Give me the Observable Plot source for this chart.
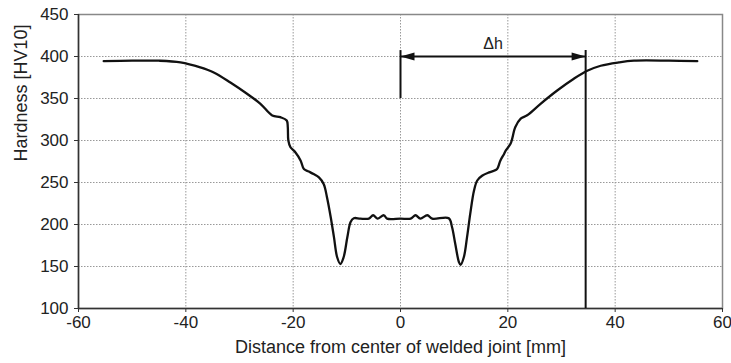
<!DOCTYPE html>
<html>
<head>
<meta charset="utf-8">
<script src="https://cdn.jsdelivr.net/npm/d3@7"></script>
<script src="https://cdn.jsdelivr.net/npm/@observablehq/plot@0.6"></script>
<style>
  html, body { margin: 0; padding: 0; background: #fff; }
  #chart svg { display: block; font-family: "Liberation Sans", Arial, sans-serif; color: #222; }
</style>
</head>
<body>
<div id="chart"></div>
<script>
// Hardness profile across the welded joint
const distance = [-55.3, -50, -45, -41, -37.3, -34.8, -31.7, -28.6, -26.1, -23.9, -22.4, -21.2, -21.0, -20.9, -20.5, -19.6, -18.6, -18.0, -17.1, -16.2, -15.2, -14.3, -13.7, -13.0, -12.4, -11.8, -11.2, -10.6, -9.9, -9.3, -8.7, -7.5, -5.9, -5.1, -4.3, -3.1, -2.5, 0, 1.9, 2.8, 3.7, 5.0, 5.9, 9.0, 9.6, 10.2, 10.9, 11.2, 11.8, 12.4, 13.0, 13.7, 14.3, 15.2, 16.5, 17.4, 18.0, 18.6, 19.3, 19.6, 20.5, 21.4, 22.4, 23.6, 26.1, 29.2, 32.3, 34.8, 37.3, 40.7, 43.5, 50, 55.3];
const hardness = [394.5, 395, 395, 393, 387, 381, 369, 355.6, 343.7, 329.8, 327.8, 323.8, 315.8, 300, 292, 286, 276, 266, 263, 260, 256, 248, 232.5, 208.7, 185, 161, 153, 161, 185, 203, 207.5, 207, 207, 211, 207, 211, 207, 207, 207, 211, 207, 211, 207, 207.5, 197, 177, 155, 152, 161, 185, 213, 240.5, 252.4, 258, 262, 264, 266, 276, 284, 288, 296, 316, 326, 330, 343.7, 359.5, 373.5, 383, 389, 393, 395, 395, 394.4];

const xTicks = [-60, -40, -20, 0, 20, 40, 60];
const yTicks = [100, 150, 200, 250, 300, 350, 400, 450];

// Δh annotation
const dhStart = 0;
const dhEnd = 34.5;
const dhArrowY = 400;
const dhTopY = 407;
const dhStartBottomY = 350;
const dhLabel = "Δh";
const dhLabelY = 415;

const xLabel = "Distance from center of welded joint [mm]";
const yLabel = "Hardness [HV10]";

const profile = distance.map((d, i) => ({x: d, y: hardness[i]}));

const triLeft = {draw(ctx) { ctx.moveTo(0, 0); ctx.lineTo(14, -4); ctx.lineTo(14, 4); ctx.closePath(); }};
const triRight = {draw(ctx) { ctx.moveTo(0, 0); ctx.lineTo(-14, -4); ctx.lineTo(-14, 4); ctx.closePath(); }};

const chart = Plot.plot({
  width: 731,
  height: 363,
  marginLeft: 78,
  marginRight: 9,
  marginTop: 14,
  marginBottom: 55,
  style: {fontFamily: "'Liberation Sans', Arial, sans-serif", color: "#222", background: "#fff"},
  x: {domain: [-60, 60]},
  y: {domain: [100, 450]},
  marks: [
    Plot.gridX(xTicks, {stroke: "#999", strokeOpacity: 1, strokeDasharray: "1.5,1.5"}),
    Plot.gridY(yTicks, {stroke: "#999", strokeOpacity: 1, strokeDasharray: "1.5,1.5"}),
    Plot.frame({stroke: "#888", strokeWidth: 1.5}),
    Plot.ruleX([-60], {stroke: "#333", strokeWidth: 1.5}),
    Plot.ruleY([100], {stroke: "#333", strokeWidth: 1.5}),
    Plot.axisX(xTicks, {tickSize: 4, tickPadding: 3, fontSize: 17, label: null, stroke: "#333", tickFormat: d => String(d)}),
    Plot.axisY(yTicks, {tickSize: 4, tickPadding: 6, fontSize: 17, label: null, stroke: "#333", tickFormat: d => String(d)}),
    Plot.text([xLabel], {frameAnchor: "bottom", dy: 44, text: d => d, fontSize: 18, fill: "#222"}),
    Plot.text([yLabel], {frameAnchor: "left", dx: -57, rotate: -90, text: d => d, fontSize: 18, fill: "#222"}),
    Plot.line(profile, {x: "x", y: "y", curve: "catmull-rom", stroke: "#111", strokeWidth: 2.3}),
    Plot.ruleX([dhStart], {y1: dhStartBottomY, y2: dhTopY, stroke: "#111", strokeWidth: 2}),
    Plot.ruleX([dhEnd], {y1: 100, y2: dhTopY, stroke: "#111", strokeWidth: 2}),
    Plot.ruleY([dhArrowY], {x1: dhStart, x2: dhEnd, stroke: "#111", strokeWidth: 2}),
    Plot.dot([{x: dhStart, y: dhArrowY}], {x: "x", y: "y", symbol: triLeft, fill: "#111", stroke: null}),
    Plot.dot([{x: dhEnd, y: dhArrowY}], {x: "x", y: "y", symbol: triRight, fill: "#111", stroke: null}),
    Plot.text([dhLabel], {x: (dhStart + dhEnd) / 2, y: dhLabelY, text: d => d, fontSize: 16, fill: "#222"})
  ]
});
document.getElementById("chart").appendChild(chart);
</script>
</body>
</html>
